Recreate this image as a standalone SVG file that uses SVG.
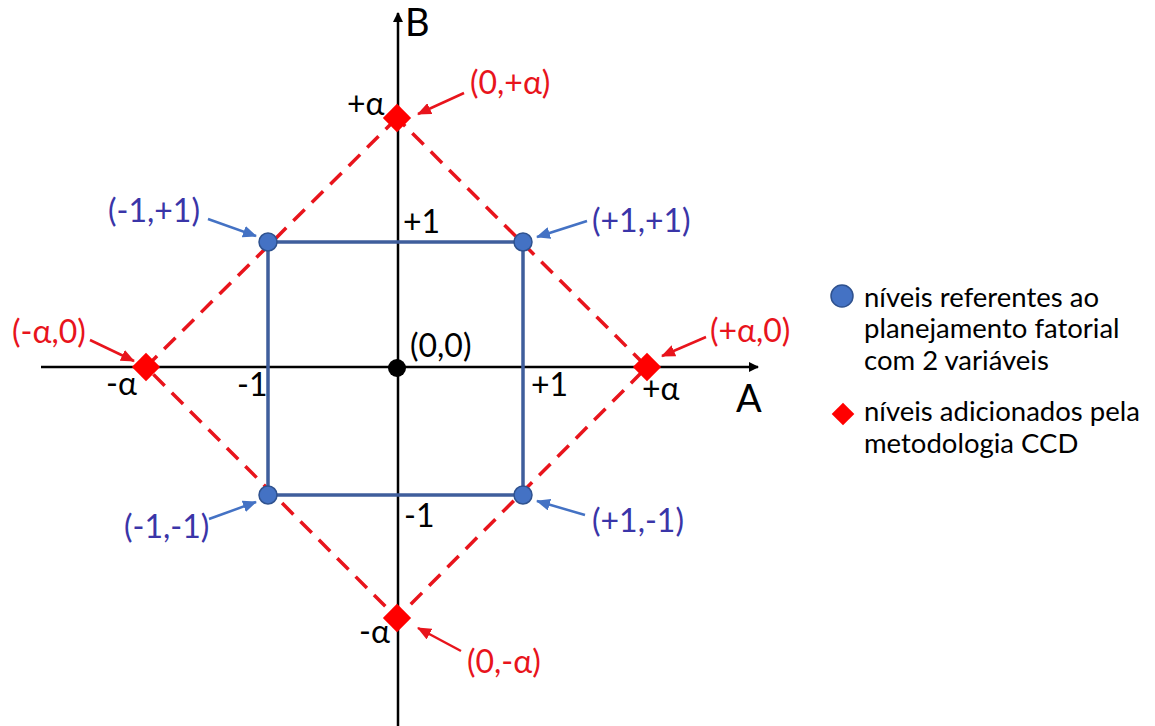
<svg xmlns="http://www.w3.org/2000/svg" width="1155" height="726" viewBox="0 0 1155 726">
<defs>
<style>
text{font-family:Lato,"Open Sans","Liberation Sans",sans-serif;font-size:32px}
.k{fill:#000}
.r{fill:#E8141C}
.b{fill:#3A35A8}
.lg{font-size:27.5px;fill:#000}
.big{font-size:38px}
.axis{stroke:#000;stroke-width:2.5;fill:none}
.dash{stroke:#E8141C;stroke-width:3.5;stroke-dasharray:16 10;fill:none}
.sq{stroke:#3F5E9C;stroke-width:3.5;fill:none}
.pt{fill:#4472C4;stroke:#2F528F;stroke-width:1.5}
.dm{fill:#FF0000}
.ar{stroke:#E8141C;stroke-width:2.5;fill:none}
.ab{stroke:#4472C4;stroke-width:2.5;fill:none}
</style>
<marker id="mk" markerWidth="10" markerHeight="10" refX="9" refY="5" orient="auto" markerUnits="userSpaceOnUse" viewBox="0 0 10 10"><path d="M0,0 L10,5 L0,10 z" fill="#000"/></marker>
<marker id="mr" markerWidth="14" markerHeight="12" refX="13" refY="6" orient="auto" markerUnits="userSpaceOnUse" viewBox="0 0 14 12"><path d="M0,0 L14,6 L0,12 z" fill="#E8141C"/></marker>
<marker id="mb" markerWidth="14" markerHeight="12" refX="13" refY="6" orient="auto" markerUnits="userSpaceOnUse" viewBox="0 0 14 12"><path d="M0,0 L14,6 L0,12 z" fill="#4472C4"/></marker>
</defs>
<rect width="1155" height="726" fill="#fff"/>
<g id="connectors">
<line class="axis" x1="398" y1="726" x2="398" y2="13" marker-end="url(#mk)"/>
<line class="axis" x1="41" y1="367" x2="758" y2="367" marker-end="url(#mk)"/>
<path class="dash" d="M397,118 L146,367 L397,618 L647,367 Z"/>
<rect class="sq" x="268" y="242" width="255" height="253"/>
<line class="ar" x1="464" y1="93" x2="418" y2="114" marker-end="url(#mr)"/>
<line class="ar" x1="90" y1="340" x2="134" y2="361" marker-end="url(#mr)"/>
<line class="ar" x1="706" y1="337" x2="662" y2="356" marker-end="url(#mr)"/>
<line class="ar" x1="461" y1="651" x2="418" y2="628" marker-end="url(#mr)"/>
<line class="ab" x1="208" y1="219" x2="256" y2="236" marker-end="url(#mb)"/>
<line class="ab" x1="587" y1="221" x2="537" y2="237" marker-end="url(#mb)"/>
<line class="ab" x1="209" y1="519" x2="256" y2="502" marker-end="url(#mb)"/>
<line class="ab" x1="585" y1="515" x2="537" y2="501" marker-end="url(#mb)"/>
</g>
<g id="n-11p"><circle class="pt" cx="268" cy="242" r="9"/><text class="b" x="108" y="222">(-1,+1)</text></g>
<g id="p1p1"><circle class="pt" cx="523" cy="242" r="9"/><text class="b" x="592" y="232">(+1,+1)</text></g>
<g id="n1n1"><circle class="pt" cx="268" cy="495" r="9"/><text class="b" x="124" y="538">(-1,-1)</text></g>
<g id="p1n1"><circle class="pt" cx="523" cy="495" r="9"/><text class="b" x="592" y="532">(+1,-1)</text></g>
<g id="center"><circle cx="397" cy="368" r="9" fill="#000"/><text class="k" x="410" y="357">(0,0)</text></g>
<g id="top"><rect class="dm" x="387" y="108" width="20" height="20" transform="rotate(45 397 118)"/><text class="r" x="470" y="94">(0,+α)</text><text class="k" x="347" y="115">+α</text></g>
<g id="bottom"><rect class="dm" x="387" y="608" width="20" height="20" transform="rotate(45 397 618)"/><text class="r" x="467" y="673">(0,-α)</text><text class="k" x="359" y="643">-α</text></g>
<g id="left"><rect class="dm" x="136" y="357" width="20" height="20" transform="rotate(45 146 367)"/><text class="r" x="12" y="343">(-α,0)</text><text class="k" x="106" y="395">-α</text></g>
<g id="right"><rect class="dm" x="637" y="357" width="20" height="20" transform="rotate(45 647 367)"/><text class="r" x="710" y="342">(+α,0)</text><text class="k" x="642" y="400">+α</text></g>
<g id="ticks">
<text class="k" x="403" y="233">+1</text>
<text class="k" x="237" y="396">-1</text>
<text class="k" x="531" y="396">+1</text>
<text class="k" x="404" y="527">-1</text>
<text class="k big" x="736" y="412">A</text>
<text class="k big" x="405" y="36">B</text>
</g>
<g id="legend">
<circle class="pt" cx="842" cy="296" r="11"/>
<text class="lg" x="864" y="307">níveis referentes ao</text>
<text class="lg" x="864" y="338">planejamento fatorial</text>
<text class="lg" x="864" y="370">com 2 variáveis</text>
<rect class="dm" x="835" y="406" width="16" height="16" transform="rotate(45 843 414)"/>
<text class="lg" x="864" y="421">níveis adicionados pela</text>
<text class="lg" x="864" y="453">metodologia CCD</text>
</g>
</svg>
